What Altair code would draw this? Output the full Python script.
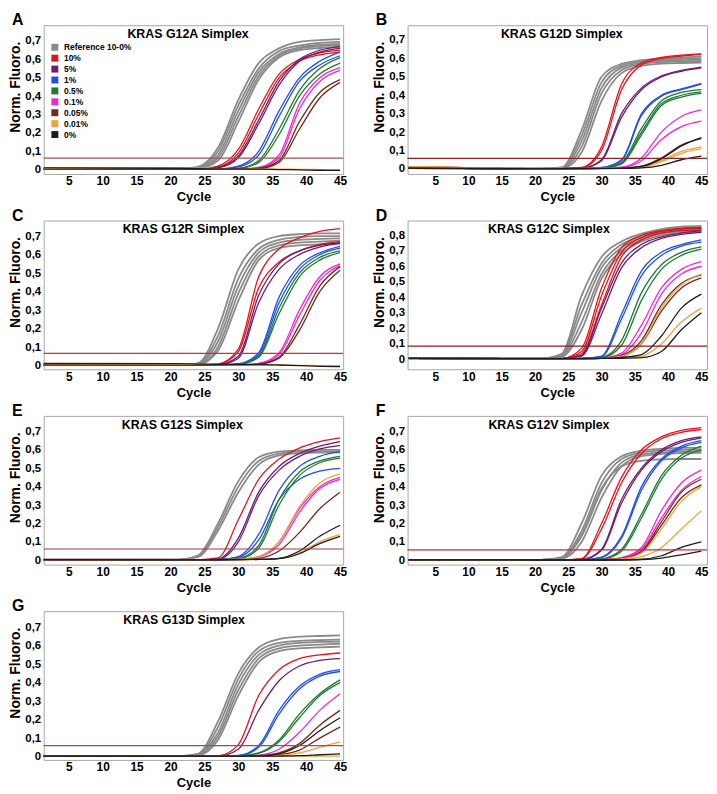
import altair as alt
import pandas as pd

FONT = "Liberation Sans"

# ---------------- data ----------------
CYCLES = [1, 21, 24, 27, 30, 33, 36, 39, 42, 45]

GROUP_KEYS = ["ref", "10", "5", "1", "0.5", "0.1", "0.05", "0.01", "0"]
GROUP_LABELS = ["Reference 10-0%", "10%", "\u00a05%", "\u00a01%", "\u00a00.5%",
                "\u00a00.1%", "\u00a00.05%", "\u00a00.01%", "\u00a00%"]
COLORS = ["#8a8a8a", "#e3151c", "#6f1d6c", "#1f4fec", "#1c7a32", "#f226d4",
          "#76281a", "#f2a23c", "#1c1c1c"]

PANEL_LETTERS = ["A", "B", "C", "D", "E", "F", "G"]
PANEL_TITLES = ["KRAS G12A Simplex", "KRAS G12D Simplex", "KRAS G12R Simplex",
                "KRAS G12C Simplex", "KRAS G12S Simplex", "KRAS G12V Simplex",
                "KRAS G13D Simplex"]
THRESHOLDS = [0.063, 0.057, 0.066, 0.085, 0.061, 0.057, 0.059]
THRESH_COLORS = ["#a4524e", "#8e2424", "#c8323c", "#8e1c1c", "#a23a3a", "#c8283c", "#a84848"]
Y_DOMAINS = [[-0.023, 0.786], [-0.027, 0.78], [-0.02, 0.784], [-0.065, 0.895],
             [-0.024, 0.785], [-0.023, 0.784], [-0.018, 0.786]]
Y_TICKS_07 = [0, 0.1, 0.2, 0.3, 0.4, 0.5, 0.6, 0.7]
Y_TICKS_08 = [0, 0.1, 0.2, 0.3, 0.4, 0.5, 0.6, 0.7, 0.8]
X_TICKS = [5, 10, 15, 20, 25, 30, 35, 40, 45]
X_DOMAIN_LEFT = [1.3, 45.45]
X_DOMAIN_RIGHT = [0.85, 45.85]
TITLE_FRAC = [0.482, 0.515, 0.467, 0.472, 0.463, 0.472, 0.469]

A_CURVES = {
    "ref": [[0.006, 0.004, 0.015, 0.12, 0.38, 0.58, 0.66, 0.695, 0.705, 0.71],
            [0.006, 0.004, 0.012, 0.10, 0.35, 0.55, 0.645, 0.675, 0.69, 0.695],
            [0.006, 0.004, 0.010, 0.08, 0.32, 0.53, 0.63, 0.665, 0.68, 0.685],
            [0.006, 0.004, 0.008, 0.065, 0.29, 0.51, 0.62, 0.66, 0.672, 0.678],
            [0.006, 0.004, 0.006, 0.05, 0.26, 0.49, 0.61, 0.65, 0.662, 0.668]],
    "10": [[0.005, 0.003, 0.003, 0.02, 0.11, 0.33, 0.52, 0.60, 0.635, 0.65],
           [0.005, 0.003, 0.003, 0.015, 0.09, 0.30, 0.50, 0.59, 0.625, 0.64]],
    "5": [[0.005, 0.003, 0.002, 0.012, 0.075, 0.27, 0.48, 0.60, 0.65, 0.67],
          [0.005, 0.003, 0.002, 0.010, 0.065, 0.25, 0.46, 0.59, 0.64, 0.66]],
    "1": [[0.005, 0.003, 0.002, 0.004, 0.02, 0.10, 0.32, 0.50, 0.59, 0.64],
          [0.005, 0.003, 0.002, 0.003, 0.015, 0.08, 0.29, 0.48, 0.57, 0.62]],
    "0.5": [[0.005, 0.003, 0.002, 0.003, 0.008, 0.05, 0.22, 0.43, 0.55, 0.61],
            [0.005, 0.003, 0.002, 0.003, 0.006, 0.04, 0.19, 0.40, 0.52, 0.58]],
    "0.1": [[0.005, 0.003, 0.002, 0.002, 0.004, 0.012, 0.08, 0.36, 0.50, 0.555],
            [0.005, 0.003, 0.002, 0.002, 0.003, 0.010, 0.065, 0.33, 0.48, 0.54]],
    "0.05": [[0.005, 0.003, 0.002, 0.002, 0.003, 0.008, 0.05, 0.26, 0.42, 0.49],
             [0.005, 0.003, 0.002, 0.002, 0.003, 0.006, 0.04, 0.22, 0.39, 0.475]],
    "0.01": [[0.008, 0.010, 0.008, 0.006, 0.005, 0.004, 0.003, 0.002, 0.001, 0.0]],
    "0": [[0.010, 0.008, 0.006, 0.005, 0.004, 0.003, 0.001, -0.001, -0.003, -0.004]],
}

B_CURVES = {
    "ref": [[0.004, 0.002, 0.008, 0.21, 0.50, 0.57, 0.59, 0.60, 0.605, 0.61],
            [0.004, 0.002, 0.006, 0.18, 0.47, 0.56, 0.583, 0.593, 0.598, 0.60],
            [0.004, 0.002, 0.005, 0.15, 0.44, 0.55, 0.576, 0.586, 0.59, 0.592],
            [0.004, 0.002, 0.004, 0.12, 0.41, 0.535, 0.57, 0.58, 0.583, 0.585],
            [0.004, 0.002, 0.003, 0.09, 0.37, 0.52, 0.56, 0.572, 0.575, 0.577]],
    "10": [[0.012, 0.002, 0.002, 0.008, 0.12, 0.46, 0.575, 0.605, 0.618, 0.625],
           [0.012, 0.002, 0.002, 0.006, 0.10, 0.43, 0.565, 0.60, 0.613, 0.62]],
    "5": [[0.004, 0.002, 0.002, 0.004, 0.05, 0.30, 0.44, 0.505, 0.535, 0.553],
          [0.004, 0.002, 0.002, 0.004, 0.045, 0.28, 0.43, 0.50, 0.53, 0.548]],
    "1": [[0.004, 0.002, 0.002, 0.003, 0.008, 0.05, 0.30, 0.40, 0.435, 0.465],
          [0.004, 0.002, 0.002, 0.003, 0.007, 0.045, 0.29, 0.395, 0.43, 0.46]],
    "0.5": [[0.004, 0.002, 0.002, 0.003, 0.005, 0.035, 0.22, 0.37, 0.415, 0.43],
            [0.004, 0.002, 0.002, 0.003, 0.005, 0.03, 0.20, 0.355, 0.40, 0.418],
            [0.004, 0.002, 0.002, 0.003, 0.005, 0.028, 0.185, 0.345, 0.39, 0.41]],
    "0.1": [[0.004, 0.002, 0.002, 0.002, 0.003, 0.01, 0.06, 0.20, 0.285, 0.32],
            [0.004, 0.002, 0.002, 0.002, 0.003, 0.008, 0.045, 0.16, 0.23, 0.26]],
    "0.05": [[0.004, 0.002, 0.002, 0.002, 0.003, 0.005, 0.015, 0.06, 0.13, 0.165]],
    "0.01": [[0.012, 0.002, 0.002, 0.002, 0.003, 0.004, 0.01, 0.045, 0.095, 0.12],
             [0.012, 0.002, 0.002, 0.002, 0.003, 0.004, 0.009, 0.04, 0.085, 0.11]],
    "0": [[0.004, 0.002, 0.002, 0.002, 0.003, 0.005, 0.014, 0.055, 0.125, 0.17],
          [0.004, 0.002, 0.002, 0.002, 0.002, 0.003, 0.006, 0.02, 0.05, 0.07]],
}

C_CURVES = {
    "ref": [[0.005, 0.003, 0.012, 0.20, 0.52, 0.66, 0.70, 0.71, 0.715, 0.715],
            [0.005, 0.003, 0.010, 0.16, 0.47, 0.63, 0.68, 0.695, 0.70, 0.70],
            [0.005, 0.003, 0.008, 0.13, 0.43, 0.61, 0.665, 0.68, 0.685, 0.688],
            [0.005, 0.003, 0.006, 0.10, 0.39, 0.59, 0.65, 0.665, 0.67, 0.675],
            [0.005, 0.003, 0.005, 0.08, 0.35, 0.57, 0.635, 0.65, 0.655, 0.66]],
    "10": [[0.005, 0.003, 0.002, 0.008, 0.09, 0.48, 0.63, 0.69, 0.725, 0.74],
           [0.005, 0.003, 0.002, 0.007, 0.075, 0.42, 0.56, 0.62, 0.655, 0.67]],
    "5": [[0.005, 0.003, 0.002, 0.005, 0.05, 0.38, 0.55, 0.62, 0.65, 0.665],
          [0.005, 0.003, 0.002, 0.004, 0.04, 0.34, 0.52, 0.60, 0.64, 0.66]],
    "1": [[0.005, 0.003, 0.002, 0.003, 0.01, 0.07, 0.37, 0.54, 0.61, 0.645],
          [0.005, 0.003, 0.002, 0.003, 0.008, 0.06, 0.34, 0.52, 0.60, 0.635]],
    "0.5": [[0.005, 0.003, 0.002, 0.003, 0.007, 0.05, 0.31, 0.50, 0.585, 0.62],
            [0.005, 0.003, 0.002, 0.003, 0.006, 0.045, 0.28, 0.48, 0.57, 0.61]],
    "0.1": [[0.005, 0.003, 0.002, 0.002, 0.004, 0.012, 0.07, 0.30, 0.48, 0.55],
            [0.005, 0.003, 0.002, 0.002, 0.004, 0.010, 0.06, 0.27, 0.46, 0.54]],
    "0.05": [[0.005, 0.003, 0.002, 0.002, 0.003, 0.008, 0.045, 0.22, 0.43, 0.535],
             [0.005, 0.003, 0.002, 0.002, 0.003, 0.007, 0.04, 0.19, 0.40, 0.515]],
    "0.01": [[0.010, 0.008, 0.006, 0.005, 0.004, 0.003, 0.002, 0.001, 0.0, 0.0]],
    "0": [[0.012, 0.010, 0.008, 0.007, 0.006, 0.005, 0.003, 0.0, -0.004, -0.006]],
}

D_CURVES = {
    "ref": [[0.005, 0.005, 0.035, 0.41, 0.66, 0.76, 0.81, 0.84, 0.855, 0.86],
            [0.005, 0.005, 0.03, 0.35, 0.62, 0.74, 0.795, 0.83, 0.845, 0.85],
            [0.005, 0.005, 0.025, 0.30, 0.59, 0.72, 0.785, 0.82, 0.835, 0.84],
            [0.005, 0.005, 0.02, 0.24, 0.55, 0.70, 0.77, 0.81, 0.825, 0.83],
            [0.005, 0.005, 0.015, 0.19, 0.52, 0.68, 0.76, 0.80, 0.815, 0.82]],
    "10": [[0.005, 0.004, 0.005, 0.07, 0.46, 0.72, 0.80, 0.83, 0.845, 0.85],
           [0.005, 0.004, 0.005, 0.05, 0.41, 0.69, 0.785, 0.825, 0.84, 0.845],
           [0.005, 0.004, 0.004, 0.035, 0.35, 0.66, 0.77, 0.815, 0.83, 0.835]],
    "5": [[0.005, 0.004, 0.004, 0.025, 0.33, 0.62, 0.74, 0.79, 0.815, 0.83],
          [0.005, 0.004, 0.004, 0.02, 0.29, 0.59, 0.72, 0.78, 0.805, 0.82]],
    "1": [[0.005, 0.004, 0.004, 0.006, 0.02, 0.29, 0.57, 0.69, 0.74, 0.77],
          [0.005, 0.004, 0.004, 0.005, 0.017, 0.26, 0.54, 0.67, 0.73, 0.755]],
    "0.5": [[0.005, 0.004, 0.004, 0.005, 0.012, 0.12, 0.43, 0.61, 0.69, 0.725],
            [0.005, 0.004, 0.004, 0.005, 0.010, 0.09, 0.38, 0.58, 0.67, 0.71]],
    "0.1": [[0.005, 0.004, 0.004, 0.004, 0.008, 0.04, 0.22, 0.46, 0.58, 0.63],
            [0.005, 0.004, 0.004, 0.004, 0.007, 0.03, 0.17, 0.42, 0.55, 0.60]],
    "0.05": [[0.005, 0.004, 0.004, 0.004, 0.006, 0.025, 0.12, 0.35, 0.49, 0.545],
             [0.005, 0.004, 0.004, 0.004, 0.006, 0.02, 0.10, 0.31, 0.46, 0.525]],
    "0.01": [[0.005, 0.004, 0.004, 0.004, 0.006, 0.02, 0.10, 0.33, 0.48, 0.55],
             [0.005, 0.004, 0.004, 0.004, 0.005, 0.008, 0.02, 0.10, 0.24, 0.33]],
    "0": [[0.005, 0.004, 0.004, 0.004, 0.005, 0.012, 0.03, 0.15, 0.33, 0.42],
          [0.005, 0.004, 0.004, 0.004, 0.005, 0.006, 0.01, 0.05, 0.19, 0.30]],
}

E_CURVES = {
    "ref": [[0.003, 0.003, 0.025, 0.20, 0.43, 0.56, 0.59, 0.597, 0.60, 0.60],
            [0.003, 0.003, 0.02, 0.18, 0.40, 0.54, 0.58, 0.59, 0.592, 0.593],
            [0.003, 0.003, 0.016, 0.16, 0.37, 0.52, 0.57, 0.582, 0.585, 0.586]],
    "10": [[0.003, 0.002, 0.002, 0.012, 0.22, 0.44, 0.55, 0.61, 0.645, 0.665]],
    "5": [[0.003, 0.002, 0.002, 0.006, 0.12, 0.37, 0.51, 0.58, 0.62, 0.645],
          [0.003, 0.002, 0.002, 0.005, 0.10, 0.35, 0.49, 0.565, 0.605, 0.625]],
    "1": [[0.003, 0.002, 0.002, 0.003, 0.02, 0.14, 0.38, 0.51, 0.565, 0.59],
          [0.003, 0.002, 0.002, 0.003, 0.015, 0.11, 0.33, 0.44, 0.485, 0.50]],
    "0.5": [[0.003, 0.002, 0.002, 0.003, 0.01, 0.08, 0.33, 0.48, 0.54, 0.565],
            [0.003, 0.002, 0.002, 0.003, 0.008, 0.065, 0.30, 0.46, 0.53, 0.555]],
    "0.1": [[0.003, 0.002, 0.002, 0.002, 0.004, 0.02, 0.10, 0.28, 0.40, 0.45],
            [0.003, 0.002, 0.002, 0.002, 0.004, 0.018, 0.085, 0.26, 0.39, 0.44]],
    "0.05": [[0.003, 0.002, 0.002, 0.002, 0.003, 0.01, 0.05, 0.15, 0.28, 0.37]],
    "0.01": [[0.003, 0.002, 0.002, 0.002, 0.004, 0.02, 0.10, 0.29, 0.42, 0.47],
             [0.003, 0.002, 0.002, 0.002, 0.003, 0.004, 0.01, 0.04, 0.10, 0.14]],
    "0": [[0.003, 0.002, 0.002, 0.002, 0.003, 0.004, 0.01, 0.05, 0.13, 0.19],
          [0.003, 0.002, 0.002, 0.002, 0.003, 0.004, 0.008, 0.035, 0.09, 0.13]],
}

F_CURVES = {
    "ref": [[0.003, 0.003, 0.018, 0.20, 0.46, 0.565, 0.595, 0.605, 0.61, 0.61],
            [0.003, 0.003, 0.014, 0.16, 0.42, 0.55, 0.585, 0.595, 0.60, 0.60],
            [0.003, 0.003, 0.011, 0.13, 0.38, 0.53, 0.575, 0.585, 0.59, 0.59],
            [0.003, 0.003, 0.009, 0.10, 0.34, 0.51, 0.565, 0.578, 0.582, 0.583],
            [0.003, 0.003, 0.012, 0.14, 0.39, 0.51, 0.54, 0.548, 0.55, 0.55]],
    "10": [[0.003, 0.002, 0.002, 0.01, 0.20, 0.45, 0.60, 0.67, 0.705, 0.72],
           [0.003, 0.002, 0.002, 0.008, 0.17, 0.42, 0.58, 0.66, 0.695, 0.71]],
    "5": [[0.003, 0.002, 0.002, 0.004, 0.06, 0.33, 0.50, 0.60, 0.65, 0.67],
          [0.003, 0.002, 0.002, 0.004, 0.055, 0.31, 0.49, 0.59, 0.64, 0.665]],
    "1": [[0.003, 0.002, 0.002, 0.003, 0.018, 0.13, 0.40, 0.55, 0.62, 0.65],
          [0.003, 0.002, 0.002, 0.003, 0.015, 0.12, 0.38, 0.54, 0.61, 0.64]],
    "0.5": [[0.003, 0.002, 0.002, 0.003, 0.008, 0.06, 0.25, 0.46, 0.57, 0.62],
            [0.003, 0.002, 0.002, 0.003, 0.007, 0.05, 0.23, 0.44, 0.555, 0.60]],
    "0.1": [[0.003, 0.002, 0.002, 0.002, 0.004, 0.015, 0.07, 0.27, 0.42, 0.49],
            [0.003, 0.002, 0.002, 0.002, 0.004, 0.012, 0.06, 0.23, 0.38, 0.455]],
    "0.05": [[0.003, 0.002, 0.002, 0.002, 0.003, 0.01, 0.05, 0.21, 0.37, 0.44],
             [0.003, 0.002, 0.002, 0.002, 0.003, 0.009, 0.045, 0.19, 0.34, 0.41]],
    "0.01": [[0.003, 0.002, 0.002, 0.002, 0.003, 0.008, 0.04, 0.17, 0.32, 0.40],
             [0.003, 0.002, 0.002, 0.002, 0.003, 0.005, 0.02, 0.07, 0.17, 0.27]],
    "0": [[0.003, 0.002, 0.002, 0.002, 0.002, 0.003, 0.006, 0.025, 0.07, 0.10],
          [0.003, 0.002, 0.002, 0.002, 0.002, 0.002, 0.004, 0.012, 0.03, 0.05]],
}

G_CURVES = {
    "ref": [[0.003, 0.002, 0.015, 0.19, 0.45, 0.59, 0.635, 0.648, 0.652, 0.655],
            [0.003, 0.002, 0.012, 0.16, 0.42, 0.57, 0.615, 0.626, 0.63, 0.632],
            [0.003, 0.002, 0.010, 0.13, 0.39, 0.55, 0.60, 0.615, 0.62, 0.622],
            [0.003, 0.002, 0.008, 0.11, 0.36, 0.53, 0.585, 0.60, 0.605, 0.61],
            [0.003, 0.002, 0.006, 0.09, 0.33, 0.51, 0.57, 0.585, 0.59, 0.595]],
    "10": [[0.003, 0.002, 0.002, 0.004, 0.065, 0.33, 0.47, 0.53, 0.55, 0.56]],
    "5": [[0.003, 0.002, 0.002, 0.003, 0.04, 0.25, 0.41, 0.49, 0.52, 0.53]],
    "1": [[0.003, 0.002, 0.002, 0.003, 0.006, 0.06, 0.25, 0.38, 0.445, 0.47],
          [0.003, 0.002, 0.002, 0.003, 0.005, 0.05, 0.23, 0.365, 0.435, 0.46]],
    "0.5": [[0.003, 0.002, 0.002, 0.003, 0.004, 0.02, 0.09, 0.23, 0.34, 0.415],
            [0.003, 0.002, 0.002, 0.003, 0.004, 0.018, 0.08, 0.21, 0.33, 0.40]],
    "0.1": [[0.003, 0.002, 0.002, 0.002, 0.003, 0.008, 0.04, 0.13, 0.25, 0.34]],
    "0.05": [[0.003, 0.002, 0.002, 0.002, 0.003, 0.005, 0.02, 0.07, 0.17, 0.25],
             [0.003, 0.002, 0.002, 0.002, 0.003, 0.004, 0.01, 0.035, 0.10, 0.16]],
    "0.01": [[0.003, 0.002, 0.002, 0.002, 0.002, 0.003, 0.006, 0.02, 0.05, 0.08],
             [0.003, 0.002, 0.002, 0.002, 0.002, 0.002, 0.002, 0.002, 0.002, 0.003]],
    "0": [[0.003, 0.002, 0.002, 0.002, 0.003, 0.004, 0.015, 0.06, 0.14, 0.21],
          [0.003, 0.002, 0.002, 0.002, 0.002, 0.002, 0.003, 0.005, 0.01, 0.015]],
}

ALL_CURVES = [A_CURVES, B_CURVES, C_CURVES, D_CURVES, E_CURVES, F_CURVES, G_CURVES]

# ---------------- layout ----------------
W_LEFT = 302
W_RIGHT = 302
H = 150

Y_LABEL_EXPR = "datum.value == 0 ? '0' : replace(format(datum.value, '.1f'), '.', ',')"


def build_frame(curves):
    rows = []
    for key, label in zip(GROUP_KEYS, GROUP_LABELS):
        for i, vals in enumerate(curves.get(key, [])):
            for c, v in zip(CYCLES, vals):
                rows.append({"group": label, "curve": f"{key}-{i}", "cycle": c,
                             "value": v, "isref": key == "ref"})
    return pd.DataFrame(rows)


def make_panel(idx, width, xdom, with_legend):
    df = build_frame(ALL_CURVES[idx])
    yticks = Y_TICKS_08 if idx == 3 else Y_TICKS_07
    x = alt.X("cycle:Q", scale=alt.Scale(domain=xdom, nice=False, zero=False),
              axis=alt.Axis(values=X_TICKS, title="Cycle", labelFlush=False,
                            labelPadding=2, titlePadding=4, titleFontSize=13,
                            labelFontSize=12, labelOverlap=False))
    y = alt.Y("value:Q", scale=alt.Scale(domain=Y_DOMAINS[idx], nice=False, zero=False),
              axis=alt.Axis(values=yticks, title="Norm. Fluoro.", labelPadding=3,
                            titlePadding=2, titleFontSize=14, labelFontSize=11.5,
                            titleY=62, labelOverlap=False, labelExpr=Y_LABEL_EXPR))
    scale = alt.Scale(domain=GROUP_LABELS, range=COLORS)
    if with_legend:
        leg = alt.Legend(title=None, orient="none", legendX=7, legendY=18,
                         symbolType="square", symbolSize=49, symbolStrokeWidth=0,
                         labelFontSize=8.5, labelFontWeight="bold", labelFont=FONT,
                         labelColor="black", rowPadding=2, labelOffset=5, padding=0,
                         symbolOpacity=1)
    else:
        leg = None
    color = alt.Color("group:N", scale=scale, legend=leg)
    base = alt.Chart(df)
    gray = base.transform_filter("datum.isref").mark_line(
        interpolate="monotone", clip=True, strokeWidth=1.8).encode(
        x=x, y=y, color=color, detail="curve:N")
    colored = base.transform_filter("!datum.isref").mark_line(
        interpolate="monotone", clip=True, strokeWidth=1.3).encode(
        x=x, y=y, color=color, detail="curve:N")
    thr = alt.Chart(pd.DataFrame({"value": [THRESHOLDS[idx]]})).mark_rule(
        color=THRESH_COLORS[idx], strokeWidth=1.2).encode(y=y)
    ttl = alt.Chart(pd.DataFrame({"t": [PANEL_TITLES[idx]]})).mark_text(
        font=FONT, fontSize=12.5, fontWeight="bold", color="black",
        baseline="alphabetic", align="center").encode(
        text="t:N", x=alt.value(width * TITLE_FRAC[idx]), y=alt.value(13))
    layers = [gray, colored, thr, ttl]
    if with_legend:
        key_df = pd.DataFrame({"group": GROUP_LABELS})
        key = alt.Chart(key_df).mark_square(clip=True, filled=True, opacity=1).encode(
            color=color, x=alt.value(-200), y=alt.value(-200))
        layers = [key] + layers
    return alt.layer(*layers).properties(
        width=width, height=H,
        title=alt.TitleParams(PANEL_LETTERS[idx], anchor="start", frame="bounds",
                              fontSize=16, fontWeight="bold", font=FONT,
                              color="black", offset=-3, dx=3))


panels = []
for i in range(7):
    left = (i % 2 == 0)
    panels.append(make_panel(i, W_LEFT if left else W_RIGHT,
                             X_DOMAIN_LEFT if left else X_DOMAIN_RIGHT, i == 0))

rows = []
for r in range(3):
    rows.append(alt.hconcat(panels[2 * r], panels[2 * r + 1], spacing=24)
                .resolve_scale(color="independent"))
rows.append(panels[6])

chart = alt.vconcat(*rows, spacing=2, padding=0).resolve_scale(
    color="independent").configure_view(
    stroke="#a6a6a6", strokeWidth=1).configure_axis(
    labelFont=FONT, titleFont=FONT, labelFontWeight="bold", titleFontWeight="bold",
    labelColor="black", titleColor="black", ticks=False, domain=False, grid=False,
    labelOverlap=False)

chart.save("out.html", embed_options={"renderer": "svg", "actions": False})
